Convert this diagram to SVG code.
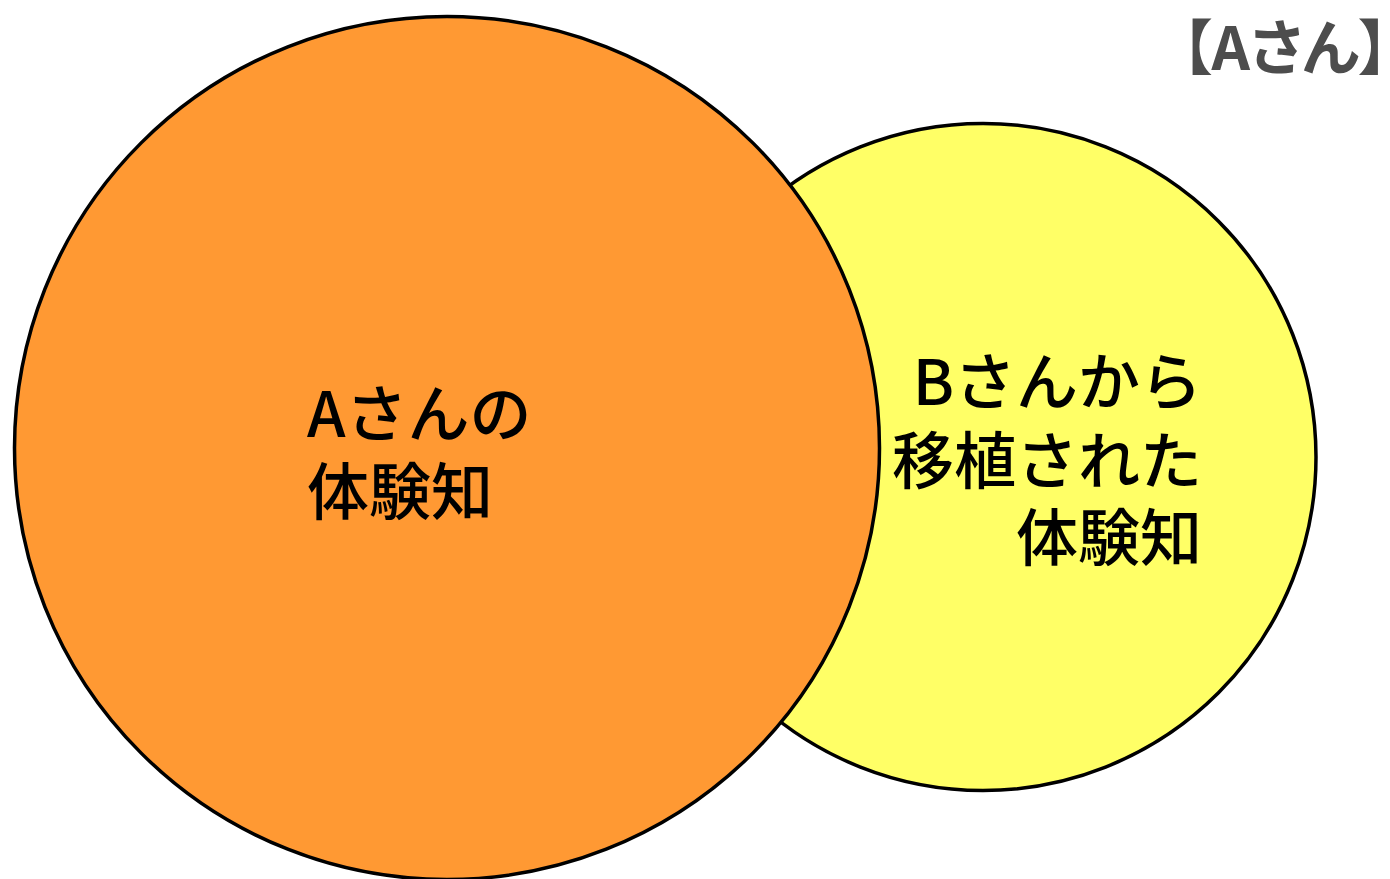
<svg xmlns="http://www.w3.org/2000/svg" width="1390" height="879" viewBox="0 0 1390 879">
<style>
.c{stroke:#000;stroke-width:3.5}
.t{font-family:"Noto Sans CJK JP","Liberation Sans",sans-serif;font-size:62px;fill:#000;font-weight:500}
.h{font-family:"Noto Sans CJK JP","Liberation Sans",sans-serif;font-size:60px;fill:#4d4d4d;font-weight:700;font-feature-settings:"palt"}
</style>
<rect width="1390" height="879" fill="#fff"/>
<g id="nodeB">
<ellipse class="c" cx="983" cy="457" rx="333" ry="333.5" fill="#FFFF66"/>
<text class="t" text-anchor="end"><tspan x="1202" y="405">Bさんから</tspan><tspan x="1202" y="484">移植された</tspan><tspan x="1202" y="561">体験知</tspan></text>
</g>
<g id="nodeA">
<ellipse class="c" cx="447" cy="448" rx="432.5" ry="431.5" fill="#FF9933"/>
<text class="t"><tspan x="307" y="437">Aさんの</tspan><tspan x="307" y="515">体験知</tspan></text>
</g>
<g id="title">
<text class="h" text-anchor="end" x="1389" y="70">【Aさん】</text>
</g>
<g id="connectors"/>
</svg>
